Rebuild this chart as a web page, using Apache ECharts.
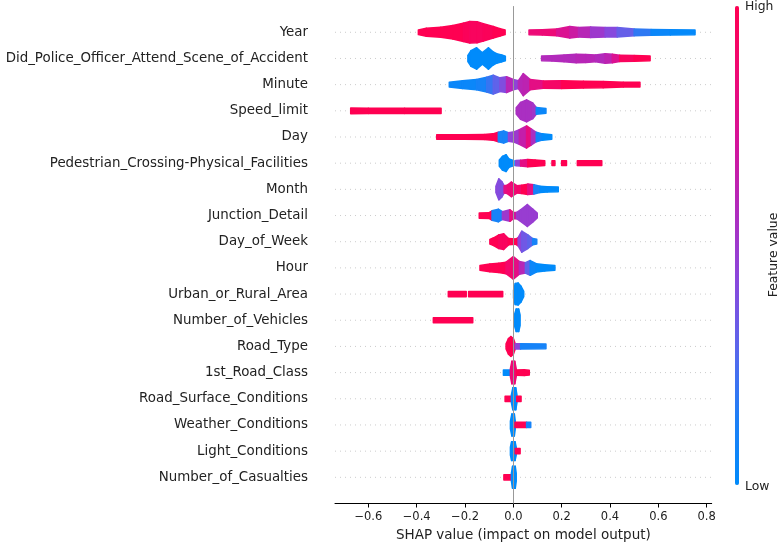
<!DOCTYPE html>
<html>
<head>
<meta charset="utf-8">
<script src="https://cdn.jsdelivr.net/npm/echarts@6/dist/echarts.min.js"></script>
<style>
html,body{margin:0;padding:0;background:#fff}
#main{width:782px;height:543px}
</style>
</head>
<body>
<div id="main"></div>
<script>
// feature names, top to bottom
var features = ['Year', 'Did_Police_Officer_Attend_Scene_of_Accident', 'Minute', 'Speed_limit', 'Day',
  'Pedestrian_Crossing-Physical_Facilities', 'Month', 'Junction_Detail', 'Day_of_Week', 'Hour',
  'Urban_or_Rural_Area', 'Number_of_Vehicles', 'Road_Type', '1st_Road_Class', 'Road_Surface_Conditions',
  'Weather_Conditions', 'Light_Conditions', 'Number_of_Casualties'];

// swarm outline per feature: pieces of [shap value, half width (rows), feature value 0..1]
var shapYear = [
  [[-0.393,0.09,1],[-0.36,0.15,1],[-0.3,0.19,1],[-0.25,0.26,1],[-0.207,0.35,0.97],[-0.18,0.41,0.95],[-0.15,0.4,0.95],[-0.124,0.33,0.97],[-0.083,0.22,1],[-0.055,0.14,1],[-0.034,0.09,1]],
  [[0.065,0.09,0.85],[0.12,0.1,0.85],[0.18,0.13,0.75],[0.234,0.22,0.68],[0.27,0.18,0.6],[0.32,0.2,0.5],[0.38,0.18,0.42],[0.43,0.18,0.32],[0.5,0.13,0.18],[0.57,0.11,0.05],[0.65,0.1,0.02],[0.752,0.09,0]]
];
var shapPolice = [
  [[-0.188,0.12,0],[-0.175,0.3,0],[-0.152,0.41,0],[-0.128,0.22,0],[-0.103,0.41,0],[-0.085,0.26,0],[-0.069,0.18,0],[-0.048,0.13,0],[-0.033,0.09,0]],
  [[0.117,0.09,0.58],[0.16,0.1,0.58],[0.21,0.13,0.58],[0.26,0.16,0.6],[0.3,0.15,0.6],[0.34,0.13,0.58],[0.38,0.18,0.62],[0.41,0.16,0.75],[0.44,0.12,0.95],[0.5,0.11,1],[0.566,0.09,1]]
];
var shapMinute = [
  [[-0.265,0.09,0.05],[-0.21,0.15,0.05],[-0.152,0.2,0.1],[-0.11,0.28,0.2],[-0.083,0.36,0.3],[-0.055,0.26,0.4],[-0.028,0.3,0.6],[0,0.2,0.45],[0.021,0.15,0.6],[0.041,0.42,0.62],[0.069,0.2,0.8],[0.124,0.14,0.92],[0.2,0.15,1],[0.29,0.13,1],[0.372,0.12,1],[0.455,0.09,1],[0.524,0.09,1]]
];
var shapSpeed = [
  [[-0.673,0.11,1],[-0.6,0.1,1],[-0.45,0.1,1],[-0.299,0.1,1]],
  [[0.012,0.12,0.55],[0.03,0.32,0.55],[0.055,0.42,0.55],[0.08,0.3,0.52],[0.095,0.13,0.05],[0.135,0.09,0]]
];
var shapDay = [
  [[-0.317,0.09,1],[-0.2,0.09,1],[-0.12,0.1,1],[-0.085,0.12,1],[-0.062,0.18,0.1],[-0.04,0.23,0.1],[-0.02,0.16,0.45],[0.005,0.2,0.5],[0.025,0.28,0.65],[0.055,0.42,0.82],[0.075,0.3,0.55],[0.095,0.18,0.08],[0.12,0.12,0],[0.159,0.09,0]]
];
var shapPedestrian = [
  [[-0.058,0.12,0],[-0.045,0.26,0],[-0.03,0.32,0],[-0.018,0.16,0],[0.003,0.09,0]],
  [[0.01,0.1,0.45],[0.03,0.11,0.8],[0.06,0.14,1],[0.09,0.12,1],[0.13,0.09,1]],
  [[0.16,0.09,1],[0.172,0.09,1]],
  [[0.2,0.09,1],[0.22,0.09,1]],
  [[0.265,0.09,1],[0.366,0.09,1]]
];
var shapMonth = [
  [[-0.072,0.12,0.42],[-0.06,0.4,0.4],[-0.048,0.3,0.4],[-0.038,0.14,0.8],[-0.025,0.16,0.85],[-0.008,0.28,0.85],[0.015,0.14,0.9],[0.035,0.16,1],[0.06,0.2,0.8],[0.085,0.18,0.1],[0.11,0.12,0],[0.14,0.1,0],[0.186,0.09,0]]
];
var shapJunction = [
  [[-0.141,0.1,1],[-0.1,0.11,1],[-0.088,0.18,0.1],[-0.062,0.24,0.1],[-0.045,0.15,0.5],[-0.014,0.22,0.82],[0.0,0.12,0.7],[0.014,0.12,0.5],[0.03,0.22,0.48],[0.058,0.42,0.48],[0.08,0.25,0.48],[0.099,0.09,0.48]]
];
var shapWeekday = [
  [[-0.097,0.09,1],[-0.083,0.14,1],[-0.06,0.26,0.95],[-0.04,0.3,0.95],[-0.02,0.12,1],[0.01,0.1,1],[0.02,0.16,0.45],[0.035,0.4,0.35],[0.06,0.26,0.3],[0.08,0.12,0.1],[0.097,0.09,0]]
];
var shapHour = [
  [[-0.138,0.09,1],[-0.097,0.15,1],[-0.06,0.18,1],[-0.03,0.22,0.9],[0,0.43,0.8],[0.025,0.24,0.6],[0.05,0.2,0.3],[0.07,0.28,0.05],[0.095,0.16,0],[0.13,0.12,0],[0.172,0.09,0]]
];
var shapUrban = [
  [[-0.269,0.1,1],[-0.195,0.1,1]],
  [[-0.185,0.1,1],[-0.044,0.1,1]],
  [[0.001,0.15,0],[0.008,0.4,0],[0.02,0.42,0],[0.032,0.3,0],[0.043,0.1,0]]
];
var shapVehicles = [
  [[-0.331,0.1,1],[-0.168,0.1,1]],
  [[0.006,0.25,0],[0.012,0.43,0],[0.022,0.43,0],[0.028,0.2,0]]
];
var shapRoadType = [
  [[-0.03,0.1,1],[-0.02,0.3,1],[-0.01,0.38,1],[0,0.3,0.95],[0.008,0.1,0.6]],
  [[0.008,0.1,0.45],[0.03,0.1,0.1],[0.135,0.09,0]]
];
var shapRoadClass = [
  [[-0.041,0.1,0],[-0.01,0.1,0.1]],
  [[-0.012,0.15,0.85],[-0.006,0.43,0.85],[0.006,0.43,0.85],[0.012,0.15,0.9]],
  [[0.012,0.1,1],[0.045,0.11,1],[0.066,0.09,1]]
];
var shapSurface = [
  [[-0.034,0.1,1],[-0.008,0.1,1]],
  [[-0.008,0.15,0],[-0.002,0.42,0],[0.01,0.42,0],[0.015,0.15,0]],
  [[0.014,0.1,1],[0.032,0.1,1]]
];
var shapWeather = [
  [[-0.012,0.15,0],[-0.006,0.42,0],[0.004,0.42,0],[0.008,0.15,0]],
  [[0.007,0.1,1],[0.055,0.1,0.1],[0.072,0.1,0]]
];
var shapLight = [
  [[-0.012,0.15,0],[-0.007,0.36,0],[0.007,0.36,0],[0.012,0.15,0]],
  [[0.008,0.1,1],[0.028,0.1,1]]
];
var shapCasualties = [
  [[-0.039,0.1,1],[-0.007,0.1,1]],
  [[-0.008,0.15,0],[-0.003,0.42,0],[0.008,0.42,0],[0.012,0.15,0]]
];

var featureShapes = [shapYear, shapPolice, shapMinute, shapSpeed, shapDay, shapPedestrian, shapMonth,
  shapJunction, shapWeekday, shapHour, shapUrban, shapVehicles, shapRoadType, shapRoadClass,
  shapSurface, shapWeather, shapLight, shapCasualties];

var xTicks = [-0.6, -0.4, -0.2, 0, 0.2, 0.4, 0.6, 0.8];
var colorStops = ['#008bfb', '#1f7ff6', '#5a66ec', '#8a47dc', '#b02bbd', '#d4149a', '#ee0a75', '#ff0052'];

var FONT = 'DejaVu Sans';
var xMin = -0.738, xMax = 0.821;

// segments between neighbour outline points
var segData = [];
var rowData = [];
for (var f = 0; f < featureShapes.length; f++) {
  var row = features.length - 1 - f;
  rowData.push([0, row]);
  var pieces = featureShapes[f];
  for (var p = 0; p < pieces.length; p++) {
    var pc = pieces[p];
    for (var k = 0; k < pc.length - 1; k++) {
      segData.push([pc[k][0], pc[k + 1][0], pc[k][1], pc[k + 1][1], pc[k][2], row]);
    }
  }
}

function renderGridLine(params, api) {
  var cs = params.coordSys;
  var y = api.coord([0, api.value(1)])[1];
  return {
    type: 'line',
    shape: {x1: cs.x, y1: y, x2: cs.x + cs.width, y2: y},
    style: {stroke: '#cccccc', lineWidth: 1, lineDash: [1, 4]}
  };
}

function renderSeg(params, api) {
  var row = api.value(5);
  var p0 = api.coord([api.value(0), row]);
  var p1 = api.coord([api.value(1), row]);
  var h0 = api.size([0, api.value(2)])[1];
  var h1 = api.size([0, api.value(3)])[1];
  var color = api.visual('color');
  return {
    type: 'polygon',
    shape: {points: [[p0[0], p0[1] - h0], [p1[0], p1[1] - h1], [p1[0], p1[1] + h1], [p0[0], p0[1] + h0]]},
    style: {fill: color, stroke: color, lineWidth: 1.5, lineJoin: 'round'}
  };
}

var option = {
  animation: false,
  backgroundColor: '#fff',
  grid: {left: 335, right: 70.3, top: 6.1, bottom: 39.5, outerBoundsMode: 'none'},
  xAxis: {
    type: 'value', min: xMin, max: xMax,
    name: 'SHAP value (impact on model output)',
    nameLocation: 'middle', nameGap: 22,
    nameTextStyle: {fontFamily: FONT, fontSize: 13.5, color: '#222'},
    axisLine: {onZero: false, lineStyle: {color: '#000', width: 1}},
    axisTick: {show: true, length: 4, customValues: xTicks, lineStyle: {color: '#000'}},
    axisLabel: {
      customValues: xTicks, margin: 8,
      fontFamily: FONT, fontSize: 11.5, color: '#222',
      formatter: function (v) { return v.toFixed(1).replace('-', '\u2212'); }
    },
    splitLine: {show: false}
  },
  yAxis: {
    type: 'value', min: -1, max: 18, interval: 1,
    axisLine: {show: false}, axisTick: {show: false}, splitLine: {show: false},
    axisLabel: {
      margin: 27, fontFamily: FONT, fontSize: 13.4, color: '#222',
      formatter: function (v) {
        if (v < 0 || v > features.length - 1) return '';
        return features[features.length - 1 - v];
      }
    }
  },
  visualMap: {
    type: 'continuous', min: 0, max: 1, dimension: 4, seriesIndex: 1,
    calculable: false, hoverLink: false, padding: 0,
    itemWidth: 4, itemHeight: 479, left: 735, top: 6,
    inRange: {color: colorStops}
  },
  graphic: [
    {type: 'text', x: 745, y: 7, style: {text: 'High', font: '12.4px "DejaVu Sans"', fill: '#222', verticalAlign: 'middle'}},
    {type: 'text', x: 745, y: 487, style: {text: 'Low', font: '12.4px "DejaVu Sans"', fill: '#222', verticalAlign: 'middle'}},
    {type: 'text', x: 774, y: 255, rotation: Math.PI / 2,
      style: {text: 'Feature value', font: '12.4px "DejaVu Sans"', fill: '#222', align: 'center', verticalAlign: 'middle'}}
  ],
  series: [
    {type: 'custom', silent: true, renderItem: renderGridLine, encode: {x: 0, y: 1}, data: rowData, z: 1},
    {
      type: 'custom', silent: true, renderItem: renderSeg, encode: {x: [0, 1], y: 5}, data: segData, z: 2,
      markLine: {
        silent: true, symbol: ['none', 'none'], label: {show: false},
        lineStyle: {color: '#999', width: 1, type: 'solid'},
        data: [{xAxis: 0}]
      }
    }
  ]
};

var chart = echarts.init(document.getElementById('main'));
chart.setOption(option);
</script>
</body>
</html>
